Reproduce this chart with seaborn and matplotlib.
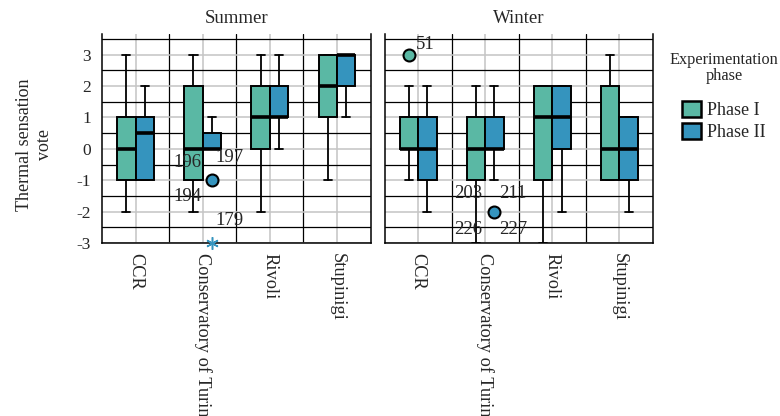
import matplotlib
matplotlib.use("Agg")
import matplotlib.pyplot as plt
from matplotlib.patches import Patch
import pandas as pd
import seaborn as sns

# ---- data -----------------------------------------------------------------
sites = ["CCR", "Conservatory of Turin", "Rivoli", "Stupinigi"]
seasons = ["Summer", "Winter"]
phases = ["Phase I", "Phase II"]

# box summaries per site: (lower whisker, Q1, median, Q3, upper whisker)
summer_phase1 = [(-2, -1, 0, 1, 3), (-2, -1, 0, 2, 3), (-2, 0, 1, 2, 3), (-1, 1, 2, 3, 3)]
summer_phase2 = [(-1, -1, 0.5, 1, 2), (0, 0, 0, 0.5, 1), (0, 1, 1, 2, 3), (1, 2, 3, 3, 3)]
winter_phase1 = [(-1, 0, 0, 1, 2), (-3, -1, 0, 1, 2), (-3, -1, 1, 2, 2), (-1, -1, 0, 2, 3)]
winter_phase2 = [(-2, -1, 0, 1, 2), (-1, 0, 0, 1, 2), (-2, 0, 1, 2, 2), (-2, -1, 0, 1, 1)]

# outlying votes
outlier_season = ["Summer", "Summer", "Winter", "Winter"]
outlier_site = ["Conservatory of Turin", "Conservatory of Turin", "CCR", "Conservatory of Turin"]
outlier_phase = ["Phase II", "Phase II", "Phase I", "Phase II"]
outlier_value = [-1, -3, 3, -2]
outlier_extreme = [False, True, False, False]

# respondent ids of the outlying votes
label_season = ["Summer", "Summer", "Summer", "Summer", "Winter",
                "Winter", "Winter", "Winter", "Winter"]
label_site = ["Conservatory of Turin"] * 4 + ["CCR"] + ["Conservatory of Turin"] * 4
label_text = ["196", "197", "194", "179", "51", "203", "211", "226", "227"]

# ---- label placement (category offset, vertical position) -----------------
label_dx = [-0.23, 0.40, -0.23, 0.40, 0.10, -0.26, 0.41, -0.26, 0.41]
label_y = [-0.44, -0.28, -1.52, -2.27, 3.32, -1.41, -1.41, -2.56, -2.56]

palette = {"Phase I": "#5AB8A4", "Phase II": "#3594BE"}
box_w = 0.275
cap_w = 0.12

rows = []
for season, p1, p2 in [("Summer", summer_phase1, summer_phase2),
                       ("Winter", winter_phase1, winter_phase2)]:
    for phase, summ in [("Phase I", p1), ("Phase II", p2)]:
        for site, (lo, q1, med, q3, hi) in zip(sites, summ):
            rows.append(dict(season=season, site=site, phase=phase,
                             lo=lo, q1=q1, med=med, q3=q3, hi=hi))
boxes = pd.DataFrame(rows)

outliers = pd.DataFrame(dict(season=outlier_season, site=outlier_site,
                             phase=outlier_phase, value=outlier_value,
                             extreme=outlier_extreme))
labels = pd.DataFrame(dict(season=label_season, site=label_site, text=label_text,
                           dx=label_dx, y=label_y))


def phase_pos(site, phase):
    off = -box_w / 2 if phase == "Phase I" else box_w / 2
    return sites.index(site) + off


def draw_boxes(data, **kws):
    ax = plt.gca()
    season = data["season"].iloc[0]
    stats, pos, cols = [], [], []
    for _, r in data.iterrows():
        stats.append(dict(whislo=r.lo, q1=r.q1, med=r.med, q3=r.q3,
                          whishi=r.hi, fliers=[]))
        pos.append(phase_pos(r.site, r.phase))
        cols.append(palette[r.phase])
    bp = ax.bxp(stats, positions=pos, widths=box_w, capwidths=cap_w,
                patch_artist=True, showfliers=False, manage_ticks=False,
                boxprops=dict(edgecolor="black", linewidth=1.4),
                medianprops=dict(color="black", linewidth=2.6, solid_capstyle="butt"),
                whiskerprops=dict(color="black", linewidth=1.3),
                capprops=dict(color="black", linewidth=1.3))
    for patch, c in zip(bp["boxes"], cols):
        patch.set_facecolor(c)
        patch.set_zorder(3)
    for key in ("whiskers", "caps"):
        for ln in bp[key]:
            ln.set_zorder(2.5)
    for ln in bp["medians"]:
        ln.set_zorder(4)

    # outliers
    for _, o in outliers[outliers.season == season].iterrows():
        x = phase_pos(o.site, o.phase)
        if o.extreme:
            ax.plot(x, o.value, marker=(6, 2, 0), ms=9, mew=1.1,
                    color=palette[o.phase], zorder=5, clip_on=False)
        else:
            ax.plot(x, o.value, marker="o", ms=8.6, mew=1.5, mec="black",
                    mfc=palette[o.phase], zorder=5, clip_on=False)
    for _, l in labels[labels.season == season].iterrows():
        ax.text(sites.index(l.site) + l.dx, l.y, l.text, ha="center",
                va="center", fontsize=13.5, zorder=6)


sns.set_theme(style="white")
plt.rcParams["font.family"] = ["Liberation Serif", "DejaVu Serif"]
plt.rcParams["axes.unicode_minus"] = False

g = sns.FacetGrid(boxes, col="season", col_order=seasons, sharey=True,
                  sharex=True, height=3, aspect=1)
g.map_dataframe(draw_boxes)
g.figure.set_size_inches(7.8, 4.16)
g.figure.subplots_adjust(left=0.1308, right=0.8372, top=0.9175,
                         bottom=0.416, wspace=0.052)

for ax, season in zip(g.axes.flat, seasons):
    ax.set_title(season, fontsize=13.5, pad=8)
    ax.set_xlim(-0.5, 3.5)
    ax.set_ylim(-3.0, 3.65)
    ax.set_xticks(range(len(sites)))
    ax.set_xticklabels(sites, rotation=270, fontsize=13.2, va="top",
                       ha="center")
    ax.set_xticks([0.5, 1.5, 2.5], minor=True)
    ax.set_yticks([-3, -2, -1, 0, 1, 2, 3])
    ax.set_yticks([-2.5, -1.5, -0.5, 0.5, 1.5, 2.5, 3.5], minor=True)
    ax.grid(which="major", color="#c4c4c4", linewidth=1.1)
    ax.grid(which="minor", color="black", linewidth=0.9)
    ax.set_axisbelow(True)
    ax.tick_params(which="both", length=0)
    ax.tick_params(axis="x", pad=7)
    ax.tick_params(axis="y", pad=8, labelsize=12.5)
    ax.set_xlabel("")
    ax.set_ylabel("")
    for side in ("left", "right", "bottom"):
        ax.spines[side].set_visible(True)
        ax.spines[side].set_color("black")
        ax.spines[side].set_linewidth(1.1)
    ax.spines["top"].set_visible(False)

ax0 = g.axes.flat[0]
ax0.set_ylabel("Thermal sensation\nvote", fontsize=13, multialignment="center")
ax0.yaxis.set_label_coords(-0.184, 0.47)

# legend: title set as centred text above the phase swatches
fig = g.figure
fig.text(724 / 780, 1 - 68 / 416, "Experimentation\nphase", ha="center",
         va="center", fontsize=11.7, linespacing=1.05,
         multialignment="center")
handles = [Patch(facecolor=palette[p], edgecolor="black", linewidth=1.8) for p in phases]
fig.legend(handles, phases, loc="upper left",
           bbox_to_anchor=(682 / 780, 1 - 101 / 416),
           frameon=False, fontsize=13, borderpad=0, borderaxespad=0,
           handlelength=1.05, handleheight=1.0, labelspacing=0.2,
           handletextpad=0.35)

fig.savefig("out.png", dpi=100)
